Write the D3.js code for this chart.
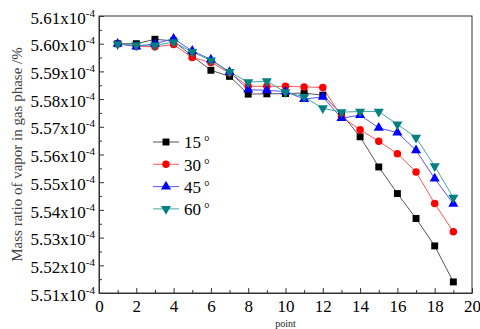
<!DOCTYPE html>
<html>
<head>
<meta charset="utf-8">
<script src="https://cdn.jsdelivr.net/npm/d3@7"></script>
<style>
  body { margin: 0; background: #fff; }
</style>
</head>
<body>
<div id="chart"></div>
<script>
// values are in units of 1e-4
const points = [1, 2, 3, 4, 5, 6, 7, 8, 9, 10, 11, 12, 13, 14, 15, 16, 17, 18, 19]
const s15 = [5.600, 5.600, 5.6016, 5.601, 5.5955, 5.5904, 5.5882, 5.5818, 5.5819, 5.582, 5.5822, 5.5814, 5.5747, 5.5664, 5.5555, 5.5459, 5.5369, 5.5270, 5.5140]
const s30 = [5.600, 5.599, 5.5989, 5.5997, 5.595, 5.5932, 5.5895, 5.5846, 5.5846, 5.5846, 5.5844, 5.5842, 5.5737, 5.5689, 5.5648, 5.5603, 5.5537, 5.5423, 5.5321]
const s45 = [5.600, 5.599, 5.600, 5.6018, 5.5974, 5.5943, 5.5898, 5.5834, 5.5832, 5.5827, 5.5800, 5.5808, 5.5731, 5.5742, 5.5696, 5.5679, 5.5615, 5.5513, 5.5422]
const s60 = [5.5998, 5.5995, 5.5994, 5.6006, 5.597, 5.594, 5.5898, 5.5861, 5.5865, 5.5825, 5.5808, 5.5767, 5.5753, 5.5755, 5.5755, 5.5709, 5.5661, 5.5558, 5.5444]
const seriesNames = ['15°', '30°', '45°', '60°']
const yTicks = [5.51, 5.52, 5.53, 5.54, 5.55, 5.56, 5.57, 5.58, 5.59, 5.60, 5.61]
const xTicks = [0, 2, 4, 6, 8, 10, 12, 14, 16, 18, 20]

const series = [
  { name: seriesNames[0], values: s15, color: '#000000', line: '#555555', symbol: d3.symbolSquare, size: 48 },
  { name: seriesNames[1], values: s30, color: '#ff0000', line: '#ff5555', symbol: d3.symbolCircle, size: 44 },
  { name: seriesNames[2], values: s45, color: '#0000ff', line: '#5555ff', symbol: d3.symbolTriangle, size: 44 },
  { name: seriesNames[3], values: s60, color: '#008080', line: '#40a6a6', symbol: d3.symbolTriangle, size: 44, flip: true }
]

const serif = 'Liberation Serif'

// plot margins
let margin = { top: 16, right: 8, bottom: 36, left: 99 }
let width = 480 - margin.left - margin.right
let height = 329 - margin.top - margin.bottom

let svg = d3.select('#chart')
  .append('svg')
    .attr('width', 480)
    .attr('height', 329)

let g = svg.append('g')
  .attr('transform', 'translate(' + margin.left + ',' + margin.top + ')')

let xScale = d3.scaleLinear().domain([0, 20]).range([0, width])
let yScale = d3.scaleLinear().domain([5.51, 5.61]).range([height, 0])

// minor ticks
g.append('g')
  .attr('transform', 'translate(0,' + height + ')')
  .call(d3.axisBottom(xScale).tickValues(d3.range(1, 20, 2)).tickSize(-3).tickFormat(''))
  .call(a => a.select('.domain').remove())
  .selectAll('line').attr('stroke', '#333')
g.append('g')
  .call(d3.axisLeft(yScale).tickValues(d3.range(5.515, 5.61, 0.01)).tickSize(-3).tickFormat(''))
  .call(a => a.select('.domain').remove())
  .selectAll('line').attr('stroke', '#333')

// x axis
let xAxis = g.append('g')
  .attr('transform', 'translate(0,' + height + ')')
  .call(d3.axisBottom(xScale).tickValues(xTicks).tickSizeInner(-5).tickSizeOuter(0).tickPadding(7))
xAxis.selectAll('text')
  .style('font-size', '17px')
  .style('font-family', serif)
  .attr('fill', '#000')
xAxis.selectAll('line, path').attr('stroke', '#333')

// y axis
let yAxis = g.append('g')
  .call(d3.axisLeft(yScale).tickValues(yTicks).tickSizeInner(-5).tickSizeOuter(0).tickFormat(''))
yAxis.selectAll('line, path').attr('stroke', '#333')
yAxis.selectAll('.tick').append('text')
  .attr('x', -4)
  .attr('dy', '0.42em')
  .attr('text-anchor', 'end')
  .attr('fill', '#000')
  .style('font-size', '17px')
  .style('font-family', serif)
  .each(function(d) {
    let t = d3.select(this)
    t.append('tspan').text(d.toFixed(2) + 'x10')
    t.append('tspan').attr('dy', '-7').style('font-size', '11px').text('-4')
  })

// frame
g.append('rect')
  .attr('width', width)
  .attr('height', height)
  .attr('fill', 'none')
  .attr('stroke', '#333')

// axis titles
svg.append('text')
  .attr('transform', 'translate(22,' + (margin.top + height / 2) + ') rotate(-90)')
  .attr('text-anchor', 'middle')
  .attr('fill', '#444')
  .style('font-size', '15px')
  .style('font-family', serif)
  .text('Mass ratio of vapor in gas phase /%')

svg.append('text')
  .attr('x', margin.left + width / 2)
  .attr('y', 327)
  .attr('text-anchor', 'middle')
  .attr('fill', '#222')
  .style('font-size', '10px')
  .style('font-family', serif)
  .text('point')

// lines and markers
let line = d3.line()
  .x((d, i) => xScale(points[i]))
  .y(d => yScale(d))

series.forEach(s => {
  g.append('path')
    .datum(s.values)
    .attr('fill', 'none')
    .attr('stroke', s.line)
    .attr('stroke-width', 1)
    .attr('d', line)
})

series.forEach(s => {
  g.selectAll(null)
    .data(s.values)
    .enter().append('path')
      .attr('d', d3.symbol().type(s.symbol).size(s.size))
      .attr('transform', (d, i) => 'translate(' + xScale(points[i]) + ',' + yScale(d) + ')' + (s.flip ? ' rotate(180)' : ''))
      .attr('fill', s.color)
})

// legend
let legend = svg.append('g').attr('transform', 'translate(153,142)')
series.forEach((s, i) => {
  let row = legend.append('g').attr('transform', 'translate(0,' + (i * 22.3) + ')')
  row.append('line')
    .attr('x1', 0).attr('x2', 26)
    .attr('stroke', s.line)
  row.append('path')
    .attr('d', d3.symbol().type(s.symbol).size(s.size))
    .attr('transform', 'translate(13,0)' + (s.flip ? ' rotate(180)' : ''))
    .attr('fill', s.color)
  let t = row.append('text')
    .attr('x', 31)
    .attr('dy', '0.38em')
    .attr('fill', '#000')
    .style('font-size', '17px')
    .style('font-family', serif)
  t.append('tspan').text(s.name.slice(0, -1))
  t.append('tspan').attr('dx', 3).attr('dy', -2).style('font-size', '14px').text('°')
})
</script>
</body>
</html>
